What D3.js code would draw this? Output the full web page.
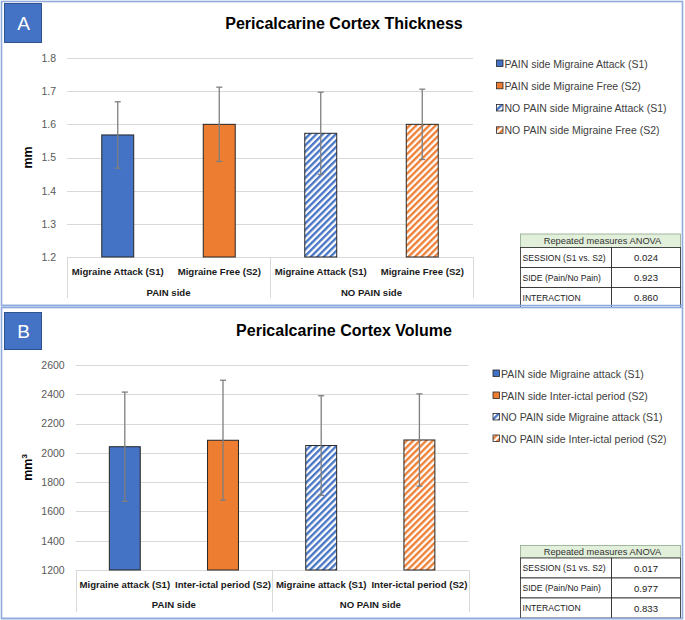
<!DOCTYPE html>
<html>
<head>
<meta charset="utf-8">
<script src="https://cdn.jsdelivr.net/npm/d3@7"></script>
<style>
  html, body { margin: 0; padding: 0; background: #fff; }
  svg { display: block; font-family: "Liberation Sans", Arial, sans-serif; }
</style>
</head>
<body>
<svg id="chart" width="685" height="620"></svg>
<script>
// ---------------- DATA ----------------
const groups = ["PAIN side", "NO PAIN side"];
const seriesColors = ["#4472C4", "#ED7D31", "#4472C4", "#ED7D31"];
const seriesHatched = [false, false, true, true];

const thicknessCategories = ["Migraine Attack (S1)", "Migraine Free (S2)", "Migraine Attack (S1)", "Migraine Free (S2)"];
const thicknessLegend = ["PAIN side Migraine Attack (S1)", "PAIN side Migraine Free (S2)", "NO PAIN side Migraine Attack (S1)", "NO PAIN side Migraine Free (S2)"];
const thicknessMean = [1.568, 1.600, 1.573, 1.600];
const thicknessErr = [0.100, 0.112, 0.124, 0.106];
const thicknessTicks = [1.2, 1.3, 1.4, 1.5, 1.6, 1.7, 1.8];
const thicknessAnova = [["SESSION (S1 vs. S2)", "0.024"], ["SIDE (Pain/No Pain)", "0.923"], ["INTERACTION", "0.860"]];

const volumeCategories = ["Migraine attack (S1)", "Inter-ictal period (S2)", "Migraine attack (S1)", "Inter-ictal period (S2)"];
const volumeLegend = ["PAIN side Migraine attack (S1)", "PAIN side Inter-ictal period (S2)", "NO PAIN side Migraine attack (S1)", "NO PAIN side Inter-ictal period (S2)"];
const volumeMean = [2042, 2086, 2050, 2088];
const volumeErr = [373, 410, 340, 315];
const volumeTicks = [1200, 1400, 1600, 1800, 2000, 2200, 2400, 2600];
const volumeAnova = [["SESSION (S1 vs. S2)", "0.017"], ["SIDE (Pain/No Pain)", "0.977"], ["INTERACTION", "0.833"]];

// ---------------- DRAW ----------------
const svg = d3.select("#chart");
const defs = svg.append("defs");
["#4472C4", "#ED7D31"].forEach((c, i) => {
  const p = defs.append("pattern")
    .attr("id", "hatch" + i)
    .attr("patternUnits", "userSpaceOnUse")
    .attr("width", 4.6).attr("height", 4.6)
    .attr("patternTransform", "rotate(45)");
  p.append("rect").attr("width", 4.6).attr("height", 4.6).attr("fill", "#fff");
  p.append("line").attr("x1", 1.2).attr("y1", 0).attr("x2", 1.2).attr("y2", 4.6)
    .attr("stroke", c).attr("stroke-width", 2.3);
});
function fillFor(i) {
  if (seriesHatched[i]) return "url(#hatch" + (seriesColors[i] === "#4472C4" ? 0 : 1) + ")";
  return seriesColors[i];
}

function drawPanel(cfg) {
  const g = svg.append("g");
  // panel border
  g.append("rect").attr("x", 1.5).attr("y", cfg.top + 0.5).attr("width", 681).attr("height", cfg.height)
    .attr("fill", "none").attr("stroke", "#8FAADC").attr("stroke-width", 1.6);
  // badge
  g.append("rect").attr("x", 4.5).attr("y", cfg.badgeY + 0.5).attr("width", 37).attr("height", cfg.badgeH)
    .attr("fill", "#4472C4").attr("stroke", "#2F528F").attr("stroke-width", 1);
  g.append("text").attr("x", 23.5).attr("y", cfg.badgeY + cfg.badgeH / 2 + 7)
    .attr("text-anchor", "middle").attr("fill", "#fff").attr("font-size", 19).text(cfg.letter);
  // title
  g.append("text").attr("x", 344).attr("y", cfg.titleY).attr("text-anchor", "middle")
    .attr("font-weight", "bold").attr("font-size", 16).attr("fill", "#000").text(cfg.title);

  const y = d3.scaleLinear().domain(cfg.domain).range([cfg.plotBottom, cfg.plotTop]);
  const x = d3.scaleBand().domain(d3.range(cfg.categories.length)).range([cfg.plotLeft, cfg.plotRight]).padding(0);

  // gridlines
  g.append("g").selectAll("line").data(cfg.ticks.slice(1)).join("line")
    .attr("x1", cfg.plotLeft).attr("x2", cfg.plotRight)
    .attr("y1", d => Math.round(y(d)) + 0.5).attr("y2", d => Math.round(y(d)) + 0.5)
    .attr("stroke", "#D9D9D9").attr("stroke-width", 1);

  // y axis
  const ax = g.append("g").attr("transform", `translate(${cfg.plotLeft},0)`)
    .call(d3.axisLeft(y).tickValues(cfg.ticks).tickFormat(cfg.fmt).tickSize(0).tickPadding(11));
  ax.select(".domain").remove();
  ax.selectAll("text").attr("font-size", 10.5).attr("fill", "#595959")
    .attr("font-family", '"Liberation Sans", Arial, sans-serif');

  // y label
  const yl = g.append("text").attr("transform", `translate(32,${(cfg.plotTop + cfg.plotBottom) / 2}) rotate(-90)`)
    .attr("text-anchor", "middle").attr("font-weight", "bold").attr("font-size", 12.5).attr("fill", "#000");
  yl.append("tspan").text("mm");
  if (cfg.sup) yl.append("tspan").attr("font-size", 8).attr("dy", -5).text(cfg.sup);

  // category box lines
  const boxG = g.append("g").attr("stroke", "#D9D9D9").attr("stroke-width", 1);
  boxG.append("line").attr("x1", cfg.plotLeft).attr("x2", cfg.plotRight)
    .attr("y1", cfg.plotBottom + 0.5).attr("y2", cfg.plotBottom + 0.5);
  const seps = [cfg.plotLeft, (cfg.plotLeft + cfg.plotRight) / 2, cfg.plotRight];
  boxG.selectAll("line.v").data(seps).join("line").attr("class", "v")
    .attr("x1", d => Math.round(d) + 0.5).attr("x2", d => Math.round(d) + 0.5)
    .attr("y1", cfg.plotBottom).attr("y2", cfg.boxBottom);

  // bars
  const bw = x.bandwidth() * 0.315;
  g.append("g").selectAll("rect").data(cfg.mean).join("rect")
    .attr("x", (d, i) => x(i) + (x.bandwidth() - bw) / 2)
    .attr("y", d => y(d))
    .attr("width", bw)
    .attr("height", d => y(cfg.domain[0]) - y(d))
    .attr("fill", (d, i) => fillFor(i))
    .attr("stroke", "#262626").attr("stroke-width", 1);

  // error bars
  const eg = g.append("g").attr("stroke", "#7F7F7F").attr("stroke-width", 1.3);
  cfg.mean.forEach((m, i) => {
    const cx = x(i) + x.bandwidth() / 2;
    const e = cfg.err[i];
    eg.append("line").attr("x1", cx).attr("x2", cx).attr("y1", y(m + e)).attr("y2", y(m - e));
    eg.append("line").attr("x1", cx - 3).attr("x2", cx + 3).attr("y1", y(m + e)).attr("y2", y(m + e));
    eg.append("line").attr("x1", cx - 3).attr("x2", cx + 3).attr("y1", y(m - e)).attr("y2", y(m - e));
  });

  // category labels
  g.append("g").selectAll("text").data(cfg.categories).join("text")
    .attr("x", (d, i) => x(i) + x.bandwidth() / 2).attr("y", cfg.catY)
    .attr("text-anchor", "middle").attr("dominant-baseline", "central")
    .attr("font-weight", "bold").attr("font-size", 9.6).attr("fill", "#1a1a1a").text(d => d);
  g.append("g").selectAll("text").data(groups).join("text")
    .attr("x", (d, i) => x(i * 2) + x.bandwidth()).attr("y", cfg.groupY)
    .attr("text-anchor", "middle").attr("dominant-baseline", "central")
    .attr("font-weight", "bold").attr("font-size", 9.6).attr("fill", "#1a1a1a").text(d => d);

  // legend
  const lg = g.append("g");
  cfg.legend.forEach((t, i) => {
    const ly = cfg.legendY[i];
    lg.append("rect").attr("x", cfg.legendX + 0.5).attr("y", ly - 3.5).attr("width", 6.5).attr("height", 6.5)
      .attr("fill", fillFor(i)).attr("stroke", "#262626").attr("stroke-width", 0.8);
    lg.append("text").attr("x", cfg.legendX + 8.5).attr("y", ly).attr("dominant-baseline", "central")
      .attr("font-size", 10.5).attr("fill", "#404040").text(t);
  });

  // ANOVA table
  const tx0 = 520.5, tx1 = 680.5, tmid = 611.5;
  const tg = g.append("g");
  tg.append("rect").attr("x", tx0).attr("y", cfg.tableTop).attr("width", tx1 - tx0).attr("height", cfg.headerH)
    .attr("fill", "#E2EFDA").attr("stroke", "#8EA98A").attr("stroke-width", 0.8);
  tg.append("text").attr("x", (tx0 + tx1) / 2 + 2).attr("y", cfg.tableTop + cfg.headerH / 2)
    .attr("text-anchor", "middle").attr("dominant-baseline", "central")
    .attr("font-size", 9.3).attr("fill", "#333").text("Repeated measures ANOVA");
  cfg.anova.forEach((r, i) => {
    const ry = cfg.tableTop + cfg.headerH + i * 20;
    tg.append("rect").attr("x", tx0).attr("y", ry).attr("width", tmid - tx0).attr("height", 20)
      .attr("fill", "#fff").attr("stroke", "#222").attr("stroke-width", 0.8);
    tg.append("rect").attr("x", tmid).attr("y", ry).attr("width", tx1 - tmid).attr("height", 20)
      .attr("fill", "#fff").attr("stroke", "#222").attr("stroke-width", 0.8);
    tg.append("text").attr("x", tx0 + 2).attr("y", ry + 10).attr("dominant-baseline", "central")
      .attr("font-size", 8.6).attr("fill", "#222").text(r[0]);
    tg.append("text").attr("x", (tmid + tx1) / 2).attr("y", ry + 10).attr("dominant-baseline", "central")
      .attr("text-anchor", "middle").attr("font-size", 9.6).attr("fill", "#222").text(r[1]);
  });
  return g;
}

// Panel A
drawPanel({
  top: 1, height: 304, letter: "A", badgeY: 3, badgeH: 39, titleY: 29,
  title: "Pericalcarine Cortex Thickness",
  domain: [1.2, 1.8], ticks: thicknessTicks, fmt: d3.format(".1f"),
  plotTop: 58, plotBottom: 257, plotLeft: 67, plotRight: 473, boxBottom: 298,
  catY: 271, groupY: 292, sup: null,
  categories: thicknessCategories, mean: thicknessMean, err: thicknessErr,
  legend: thicknessLegend, legendX: 496, legendY: [63.5, 85.8, 108, 130.3],
  anova: thicknessAnova, tableTop: 234, headerH: 13.5
});
// Panel B
drawPanel({
  top: 307, height: 311, letter: "B", badgeY: 312, badgeH: 37, titleY: 336,
  title: "Pericalcarine Cortex Volume",
  domain: [1200, 2600], ticks: volumeTicks, fmt: d3.format("d"),
  plotTop: 365, plotBottom: 570, plotLeft: 75.7, plotRight: 468.5, boxBottom: 612,
  catY: 584, groupY: 604.5, sup: "3",
  categories: volumeCategories, mean: volumeMean, err: volumeErr,
  legend: volumeLegend, legendX: 492.5, legendY: [373.5, 395.5, 417, 438.5],
  anova: volumeAnova, tableTop: 545.5, headerH: 12.5
});
// redraw panel borders on top so tables are clipped visually by them
svg.append("line").attr("x1", 1).attr("x2", 683).attr("y1", 305.5).attr("y2", 305.5).attr("stroke", "#8FAADC").attr("stroke-width", 1.6);
svg.append("line").attr("x1", 1).attr("x2", 683).attr("y1", 618.5).attr("y2", 618.5).attr("stroke", "#8FAADC").attr("stroke-width", 1.6);
</script>
</body>
</html>
